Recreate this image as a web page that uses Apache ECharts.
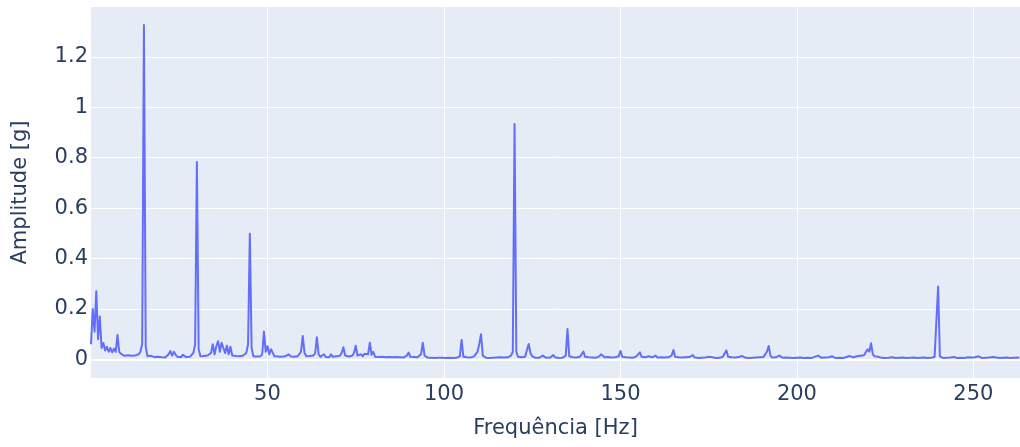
<!DOCTYPE html>
<html>
<head>
<meta charset="utf-8">
<title>Espectro de frequência</title>
<script src="https://cdn.jsdelivr.net/npm/echarts@6/dist/echarts.min.js"></script>
<style>
  html, body { margin: 0; padding: 0; background: #ffffff; }
  #chart { width: 1020px; height: 447px; }
</style>
</head>
<body>
<div id="chart"></div>
<script>
// FFT bin width of the amplitude spectrum
const binHz = 0.5;

// Amplitude [g] per 0.5 Hz bin, one array per band; each row covers 10 Hz
const band0to50 = [
  0.06, 0.2, 0.11, 0.27, 0.08, 0.17, 0.045, 0.065, 0.035, 0.05, 0.03, 0.045, 0.028, 0.042, 0.03, 0.097, 0.03, 0.022, 0.018, 0.014,
  0.012, 0.016, 0.01, 0.014, 0.011, 0.015, 0.012, 0.02, 0.03, 0.06, 1.327, 0.05, 0.012, 0.008, 0.014, 0.007, 0.009, 0.006, 0.01, 0.014,
  0.008, 0.01, 0.007, 0.012, 0.02, 0.033, 0.015, 0.03, 0.018, 0.01, 0.012, 0.008, 0.018, 0.011, 0.009, 0.012, 0.01, 0.015, 0.025, 0.06,
  0.783, 0.04, 0.012, 0.01, 0.013, 0.009, 0.015, 0.02, 0.025, 0.06, 0.02, 0.052, 0.072, 0.03, 0.066, 0.068, 0.025, 0.054, 0.02, 0.05,
  0.015, 0.011, 0.013, 0.009, 0.012, 0.01, 0.014, 0.012, 0.025, 0.06, 0.498, 0.045, 0.012, 0.009, 0.011, 0.008, 0.012, 0.02, 0.11, 0.03
];

const band50to100 = [
  0.052, 0.02, 0.04, 0.035, 0.012, 0.008, 0.011, 0.007, 0.01, 0.008, 0.012, 0.015, 0.02, 0.012, 0.008, 0.01, 0.007, 0.012, 0.018, 0.03,
  0.093, 0.025, 0.012, 0.009, 0.013, 0.01, 0.015, 0.025, 0.088, 0.02, 0.01, 0.015, 0.02, 0.009, 0.012, 0.008, 0.02, 0.01, 0.008, 0.012,
  0.01, 0.014, 0.025, 0.048, 0.015, 0.008, 0.011, 0.009, 0.014, 0.025, 0.054, 0.015, 0.01, 0.02, 0.012, 0.022, 0.015, 0.02, 0.066, 0.018,
  0.03, 0.01, 0.007, 0.009, 0.006, 0.01, 0.015, 0.008, 0.006, 0.009, 0.007, 0.008, 0.005, 0.009, 0.006, 0.008, 0.01, 0.007, 0.012, 0.015,
  0.027, 0.01, 0.007, 0.009, 0.006, 0.008, 0.011, 0.02, 0.066, 0.015, 0.008, 0.006, 0.009, 0.006, 0.008, 0.005, 0.007, 0.006, 0.009, 0.006
];

const band100to150 = [
  0.008, 0.005, 0.007, 0.006, 0.009, 0.005, 0.007, 0.006, 0.008, 0.012, 0.077, 0.01, 0.006, 0.008, 0.005, 0.007, 0.009, 0.012, 0.017, 0.03,
  0.061, 0.1, 0.015, 0.008, 0.006, 0.008, 0.005, 0.007, 0.006, 0.009, 0.007, 0.005, 0.008, 0.006, 0.007, 0.005, 0.008, 0.01, 0.015, 0.03,
  0.934, 0.03, 0.01, 0.006, 0.008, 0.006, 0.01, 0.037, 0.061, 0.025, 0.012, 0.008, 0.006, 0.009, 0.006, 0.01, 0.015, 0.008, 0.006, 0.008,
  0.007, 0.01, 0.017, 0.008, 0.006, 0.005, 0.008, 0.006, 0.009, 0.015, 0.12, 0.012, 0.006, 0.008, 0.005, 0.007, 0.006, 0.01, 0.015, 0.031,
  0.01, 0.006, 0.008, 0.005, 0.007, 0.009, 0.006, 0.008, 0.012, 0.02, 0.015, 0.008, 0.006, 0.009, 0.005, 0.007, 0.006, 0.008, 0.006, 0.012
];

const band150to200 = [
  0.033, 0.01, 0.006, 0.008, 0.005, 0.007, 0.009, 0.006, 0.008, 0.012, 0.018, 0.028, 0.01, 0.006, 0.008, 0.01, 0.012, 0.015, 0.008, 0.01,
  0.015, 0.007, 0.005, 0.008, 0.006, 0.007, 0.005, 0.008, 0.01, 0.015, 0.037, 0.01, 0.006, 0.008, 0.005, 0.007, 0.006, 0.008, 0.007, 0.009,
  0.012, 0.017, 0.008, 0.006, 0.005, 0.008, 0.006, 0.009, 0.007, 0.013, 0.01, 0.013, 0.008, 0.006, 0.005, 0.007, 0.006, 0.008, 0.01, 0.015,
  0.036, 0.01, 0.006, 0.008, 0.005, 0.007, 0.006, 0.009, 0.008, 0.013, 0.009, 0.006, 0.007, 0.005, 0.008, 0.006, 0.005, 0.007, 0.006, 0.008,
  0.006, 0.009, 0.015, 0.03, 0.053, 0.015, 0.007, 0.005, 0.008, 0.01, 0.015, 0.008, 0.006, 0.005, 0.007, 0.005, 0.006, 0.008, 0.005, 0.007
];

const band200to250 = [
  0.006, 0.005, 0.007, 0.006, 0.005, 0.008, 0.006, 0.007, 0.005, 0.008, 0.01, 0.012, 0.015, 0.008, 0.006, 0.005, 0.007, 0.006, 0.008, 0.006,
  0.012, 0.008, 0.005, 0.007, 0.006, 0.008, 0.005, 0.007, 0.009, 0.01, 0.013, 0.015, 0.008, 0.01, 0.012, 0.009, 0.014, 0.02, 0.016, 0.022,
  0.04, 0.03, 0.064, 0.02, 0.012, 0.008, 0.01, 0.007, 0.006, 0.008, 0.005, 0.007, 0.006, 0.005, 0.008, 0.006, 0.005, 0.007, 0.006, 0.005,
  0.007, 0.006, 0.005, 0.008, 0.006, 0.005, 0.007, 0.006, 0.005, 0.008, 0.006, 0.005, 0.007, 0.006, 0.005, 0.008, 0.006, 0.007, 0.01, 0.015,
  0.289, 0.012, 0.007, 0.005, 0.008, 0.006, 0.005, 0.007, 0.006, 0.009, 0.006, 0.005, 0.008, 0.006, 0.007, 0.005, 0.006, 0.008, 0.005, 0.007
];

const band250to263 = [
  0.006, 0.008, 0.01, 0.012, 0.007, 0.005, 0.008, 0.006, 0.005, 0.007, 0.006, 0.009, 0.005, 0.007, 0.006, 0.005, 0.008, 0.006, 0.005, 0.007,
  0.006, 0.005, 0.008, 0.006, 0.005, 0.007, 0.006
];

const bands = [
  { startHz: 0, values: band0to50 },
  { startHz: 50, values: band50to100 },
  { startHz: 100, values: band100to150 },
  { startHz: 150, values: band150to200 },
  { startHz: 200, values: band200to250 },
  { startHz: 250, values: band250to263 }
];

// [frequency, amplitude] pairs, frequency taken from the bin centre
const spectrum = [];
bands.forEach(b => {
  b.values.forEach((v, i) => spectrum.push([b.startHz + i * binHz, v]));
});

const textColor = '#2a3f5f';
const fontFamily = '"DejaVu Sans", Verdana, sans-serif';
const fontSize = 21;

const chart = echarts.init(document.getElementById('chart'), null, { renderer: 'canvas' });

chart.setOption({
  animation: false,
  backgroundColor: '#ffffff',
  textStyle: { fontFamily: fontFamily, color: textColor },
  grid: {
    left: 91, right: 0, top: 7, bottom: 69,
    containLabel: false,
    show: true,
    backgroundColor: '#E5ECF6',
    borderWidth: 0
  },
  xAxis: {
    type: 'value',
    min: 0,
    max: 263.2,
    splitNumber: 5,
    name: 'Frequência [Hz]',
    nameLocation: 'middle',
    nameGap: 40,
    nameTextStyle: { fontSize: fontSize, color: textColor, fontFamily: fontFamily },
    axisLine: { show: false },
    axisTick: { show: false },
    axisLabel: {
      showMinLabel: false, showMaxLabel: false,
      fontSize: fontSize, color: textColor, fontFamily: fontFamily, margin: 6
    },
    splitLine: {
      show: true, showMinLine: false, showMaxLine: false,
      lineStyle: { color: '#ffffff', width: 1 }
    }
  },
  yAxis: {
    type: 'value',
    min: -0.074,
    max: 1.398,
    splitNumber: 7,
    name: 'Amplitude [g]',
    nameLocation: 'middle',
    nameGap: 60,
    nameTextStyle: { fontSize: fontSize, color: textColor, fontFamily: fontFamily },
    axisLine: { show: false },
    axisTick: { show: false },
    axisLabel: {
      showMinLabel: false, showMaxLabel: false,
      fontSize: fontSize, color: textColor, fontFamily: fontFamily, margin: 3,
      formatter: v => String(Math.round(v * 10) / 10)
    },
    splitLine: {
      show: true, showMinLine: false, showMaxLine: false,
      lineStyle: { color: '#ffffff', width: 1 }
    }
  },
  series: [
    {
      // zero line of the amplitude axis, drawn under the spectrum
      type: 'line',
      data: [],
      z: 1,
      silent: true,
      markLine: {
        silent: true,
        symbol: 'none',
        label: { show: false },
        lineStyle: { color: '#ffffff', width: 2, type: 'solid' },
        data: [{ yAxis: 0 }]
      }
    },
    {
      name: 'Amplitude',
      type: 'line',
      data: spectrum,
      z: 3,
      showSymbol: false,
      sampling: 'none',
      clip: true,
      lineStyle: { color: '#636efa', width: 2, join: 'round' }
    }
  ]
});
</script>
</body>
</html>
